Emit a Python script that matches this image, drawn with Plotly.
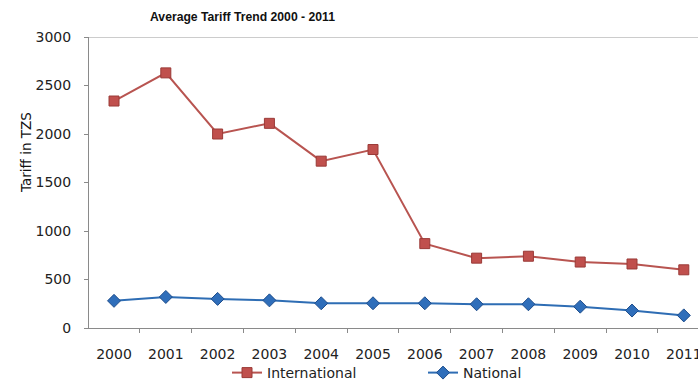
import plotly.graph_objects as go

years = ["2000", "2001", "2002", "2003", "2004", "2005", "2006", "2007", "2008", "2009", "2010", "2011"]
international = [2340, 2630, 2000, 2110, 1720, 1840, 870, 720, 740, 680, 660, 600]
national = [280, 320, 300, 285, 255, 255, 255, 245, 245, 220, 180, 130]

fig = go.Figure()
fig.add_trace(go.Scatter(
    x=years, y=international, name="International", mode="lines+markers",
    line=dict(color="#B85450", width=2),
    marker=dict(symbol="square", size=10, color="#C0504D", line=dict(color="#9A3A37", width=1)),
))
fig.add_trace(go.Scatter(
    x=years, y=national, name="National", mode="lines+markers",
    line=dict(color="#2E6DB4", width=2),
    marker=dict(symbol="diamond", size=10, color="#2F6EBA", line=dict(color="#1F4E8C", width=1)),
))

fig.add_shape(type="line", xref="paper", yref="y", x0=0, x1=1, y0=3000, y1=3000,
              line=dict(color="#9A9A9A", width=1))

fig.add_annotation(text="Tariff in TZS", textangle=-90, xref="paper", yref="paper",
                   x=(26 - 89) / 609, y=(328 - 153) / 291, xanchor="center", yanchor="middle",
                   showarrow=False,
                   font=dict(family="DejaVu Sans, sans-serif", size=13.5, color="#111"))

fig.update_layout(
    width=698, height=381,
    margin=dict(l=89, r=0, t=37, b=53, autoexpand=False),
    paper_bgcolor="white", plot_bgcolor="white",
    font=dict(family="DejaVu Sans, sans-serif", size=12, color="#222"),
    title=dict(text="<b>Average Tariff Trend 2000 - 2011</b>", x=150/698, xanchor="left",
               y=1 - 17/381, yanchor="middle",
               font=dict(family="Liberation Sans, sans-serif", size=12.2, color="#111")),
    xaxis=dict(range=[-0.483, 11.274], showgrid=False, showline=True, linecolor="#8A8A8A",
               ticks="outside", tickson="boundaries", ticklen=4, tickcolor="#8A8A8A",
               ticklabelstandoff=13, automargin=False,
               tickfont=dict(family="DejaVu Sans, sans-serif", size=14, color="#222")),
    yaxis=dict(range=[0, 3000], dtick=500, showgrid=False, showline=True, linecolor="#8A8A8A",
               ticks="outside", ticklen=4, tickcolor="#8A8A8A", zeroline=False,
               ticklabelstandoff=10, automargin=False,
               tickfont=dict(family="DejaVu Sans, sans-serif", size=14, color="#222")),
    legend=dict(orientation="h", xref="container", yref="container",
                x=227 / 698, xanchor="left", y=1 - 373 / 381, yanchor="middle",
                entrywidth=151, entrywidthmode="pixels",
                font=dict(family="DejaVu Sans, sans-serif", size=14, color="#222"),
                bgcolor="rgba(0,0,0,0)"),
    showlegend=True,
)

fig.write_html("out.html")
